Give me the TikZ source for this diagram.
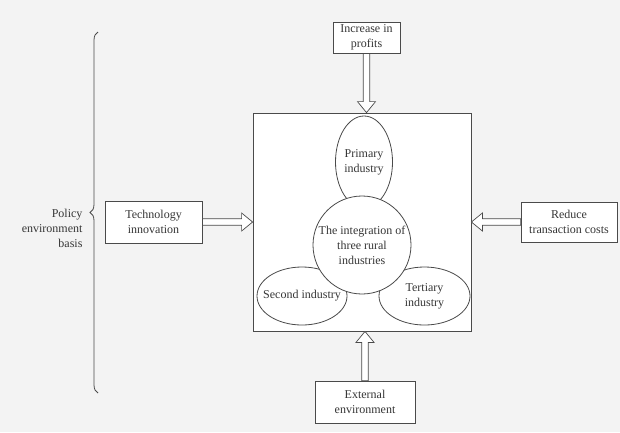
\documentclass[tikz,border=0pt]{standalone}
\usepackage{fontspec}
\setmainfont{Liberation Serif}
\usepackage{xcolor}
\definecolor{Ink}{HTML}{363636}
\definecolor{Line}{HTML}{4A4A4A}
\definecolor{Paper}{HTML}{F3F3F3}
\usetikzlibrary{calc,shapes.geometric,decorations.pathreplacing}

\begin{document}
\begin{tikzpicture}[
  x=1pt,y=-1pt,
  font=\fontsize{12}{15}\selectfont, text=Ink,
  box/.style={draw=Line,line width=.8pt,fill=white,align=center,inner sep=2pt},
  blob/.style={ellipse,draw=Line,line width=.8pt,fill=white,inner sep=0pt},
  hub/.style={circle,draw=Line,line width=.8pt,fill=white,inner sep=0pt},
  % block arrow drawn as an outline between two points
  hollow/.style={draw=Line,line width=.7pt,fill=white,to path={
    ($(\tikztostart)!3.2pt!90:(\tikztotarget)$)
    -- ($(\tikztotarget)!11pt!(\tikztostart)!3.2pt!-90:(\tikztostart)$)
    -- ($(\tikztotarget)!11pt!(\tikztostart)!9pt!-90:(\tikztostart)$)
    -- (\tikztotarget)
    -- ($(\tikztotarget)!11pt!(\tikztostart)!9pt!90:(\tikztostart)$)
    -- ($(\tikztotarget)!11pt!(\tikztostart)!3.2pt!90:(\tikztostart)$)
    -- ($(\tikztostart)!3.2pt!-90:(\tikztotarget)$) -- cycle}}
]
\fill[Paper] (0,0) rectangle (620,432);
\useasboundingbox (0,0) rectangle (620,432);

% the square holding the three industries
\node[draw=Line,line width=.8pt,fill=white,minimum width=218pt,minimum height=218pt,inner sep=0pt] (frame) at (362,222) {};
\node[blob,minimum width=57pt,minimum height=92pt,label={[align=center]center:Primary\\industry}] (primary) at (364,162) {};
\node[blob,minimum width=90pt,minimum height=58pt,label={center:Second industry}] (second) at (302,296) {};
\node[blob,minimum width=91pt,minimum height=58pt,label={[align=center]center:Tertiary\\industry}] (tertiary) at (424.5,296) {};
\node[hub,minimum size=98pt,label={[align=center]center:The integration of\\three rural\\industries}] (core) at (362,245) {};

% driving factors round the square
\node[box,minimum width=67pt,minimum height=31pt] (profit) at (366.5,37.5) {Increase in\\profits};
\node[box,minimum width=97pt,minimum height=42pt] (tech) at (153.5,222) {Technology\\innovation};
\node[box,minimum width=96pt,minimum height=40pt] (cost) at (569,222) {Reduce\\transaction costs};
\node[box,minimum width=100pt,minimum height=42pt] (extern) at (365,402) {External\\environment};

\draw[hollow] (profit.south) to (profit.south |- frame.north);
\draw[hollow] (tech.east) to (frame.west);
\draw[hollow] (cost.west) to (frame.east);
\draw[hollow] (extern.north) to (extern.north |- frame.south);

% policy brace on the left
\coordinate (bracetop) at (98,32);
\coordinate (bracebot) at (98,393);
\draw[Line,line width=.8pt,decorate,decoration={brace,amplitude=8pt}] (bracebot) -- (bracetop);
\node[anchor=east,align=right] (policy) at (86,228) {Policy\\environment\\basis};
\end{tikzpicture}
\end{document}
